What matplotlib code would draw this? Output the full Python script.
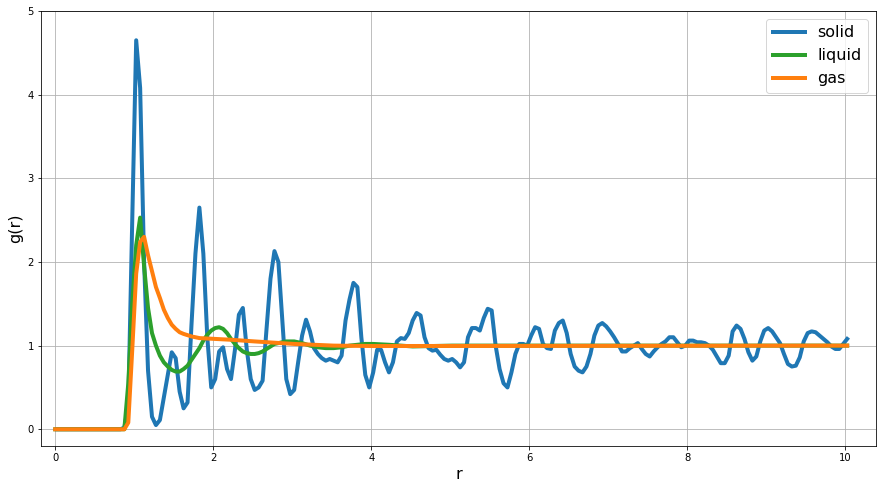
import numpy as np
import matplotlib
matplotlib.use("Agg")
import matplotlib.pyplot as plt

# radial grid of the solid histogram (bin centres)
r_solid = np.arange(201) * 0.05 + 0.025
g_solid = [0.0] * 17 + [
    0.02, 0.28, 2.5, 4.65, 4.08, 2.0, 0.7, 0.15, 0.05, 0.11,
    0.38, 0.65, 0.92, 0.85, 0.45, 0.25, 0.32, 1.25, 2.1, 2.65,
    2.1, 1.1, 0.5, 0.6, 0.93, 0.98, 0.72, 0.6, 0.95, 1.37,
    1.45, 0.95, 0.6, 0.47, 0.5, 0.58, 1.2, 1.8, 2.13, 2.0,
    1.3, 0.6, 0.42, 0.47, 0.8, 1.12, 1.31, 1.17, 0.97, 0.9,
    0.85, 0.82, 0.84, 0.82, 0.8, 0.88, 1.3, 1.55, 1.75, 1.7,
    1.1, 0.65, 0.5, 0.68, 0.95, 0.95, 0.8, 0.68, 0.8, 1.05,
    1.09, 1.08, 1.15, 1.3, 1.39, 1.36, 1.1, 0.97, 0.94, 0.95,
    0.89, 0.84, 0.82, 0.84, 0.8, 0.74, 0.8, 1.1, 1.21, 1.21,
    1.18, 1.33, 1.44, 1.42, 1.0, 0.72, 0.55, 0.5, 0.68, 0.9,
    1.02, 1.02, 1.0, 1.12, 1.22, 1.2, 1.02, 0.97, 0.96, 1.18,
    1.27, 1.3, 1.15, 0.9, 0.75, 0.7, 0.68, 0.75, 0.9, 1.12,
    1.24, 1.27, 1.23, 1.17, 1.1, 1.02, 0.93, 0.93, 0.97, 1.0,
    1.03, 0.96, 0.9, 0.87, 0.93, 0.98, 1.02, 1.05, 1.1, 1.1,
    1.04, 0.98, 1.0, 1.06, 1.06, 1.04, 1.04, 1.03, 1.0, 0.95,
    0.87, 0.79, 0.79, 0.88, 1.17, 1.24, 1.2, 1.08, 0.92, 0.82,
    0.87, 1.05, 1.18, 1.21, 1.17, 1.1, 1.03, 0.9, 0.78, 0.75,
    0.76, 0.86, 1.05, 1.15, 1.17, 1.16, 1.12, 1.08, 1.04, 0.99,
    0.96, 0.96, 1.02, 1.08,
]

r_liquid = [0.0, 0.875, 0.925, 0.975, 1.025, 1.075, 1.125, 1.175, 1.225, 1.275,
            1.325, 1.375, 1.425, 1.475, 1.525, 1.575, 1.625, 1.675, 1.725, 1.775,
            1.825, 1.875, 1.925, 1.975, 2.025, 2.075, 2.125, 2.175, 2.225, 2.275,
            2.325, 2.375, 2.425, 2.475, 2.525, 2.575, 2.625, 2.675, 2.725, 2.775,
            2.825, 2.875, 2.925, 3.025, 3.125, 3.225, 3.325, 3.425, 3.525, 3.625,
            3.725, 3.825, 3.925, 4.025, 4.225, 4.525, 5.025, 10.025]
g_liquid = [0.0, 0.0, 0.55, 1.5, 2.2, 2.53, 1.95, 1.45, 1.15, 1.0,
            0.88, 0.8, 0.75, 0.71, 0.69, 0.69, 0.72, 0.76, 0.83, 0.9,
            0.97, 1.06, 1.13, 1.18, 1.21, 1.22, 1.2, 1.15, 1.08, 1.02,
            0.97, 0.93, 0.91, 0.9, 0.9, 0.91, 0.93, 0.96, 0.99, 1.02,
            1.03, 1.04, 1.05, 1.05, 1.03, 1.0, 0.98, 0.97, 0.97, 0.98,
            1.0, 1.01, 1.02, 1.02, 1.01, 0.99, 1.0, 1.0]

r_gas = [0.0, 0.875, 0.925, 0.975, 1.025, 1.075, 1.125, 1.175, 1.225, 1.275,
         1.325, 1.375, 1.425, 1.475, 1.525, 1.575, 1.625, 1.725, 1.825, 2.025,
         2.225, 2.525, 3.025, 3.525, 4.025, 10.025]
g_gas = [0.0, 0.0, 0.08, 0.95, 1.86, 2.24, 2.30, 2.08, 1.89, 1.70,
         1.57, 1.43, 1.33, 1.25, 1.20, 1.16, 1.14, 1.11, 1.09, 1.08,
         1.07, 1.05, 1.02, 1.0, 0.995, 1.0]

fig = plt.figure(figsize=(887 / 72, 489 / 72), dpi=72)
ax = fig.add_axes([41 / 887, 1 - 446 / 489, (876 - 41) / 887, (446 - 11) / 489])

ax.plot(r_solid, g_solid, color="#1f77b4", lw=4, label="solid")
ax.plot(r_liquid, g_liquid, color="#2ca02c", lw=4, label="liquid")
ax.plot(r_gas, g_gas, color="#ff7f0e", lw=4, label="gas")

ax.set_xlim(-0.18, 10.39)
ax.set_ylim(-0.2, 5)
ax.set_xticks([0, 2, 4, 6, 8, 10])
ax.set_yticks([0, 1, 2, 3, 4, 5])
ax.tick_params(labelsize=10)
ax.grid(True, color="#b0b0b0", lw=0.8)
ax.set_axisbelow(True)
ax.set_xlabel("r", fontsize=16)
ax.set_ylabel("g(r)", fontsize=16)
ax.legend(loc="upper right", fontsize=16)

fig.savefig("out.png", dpi=72)
